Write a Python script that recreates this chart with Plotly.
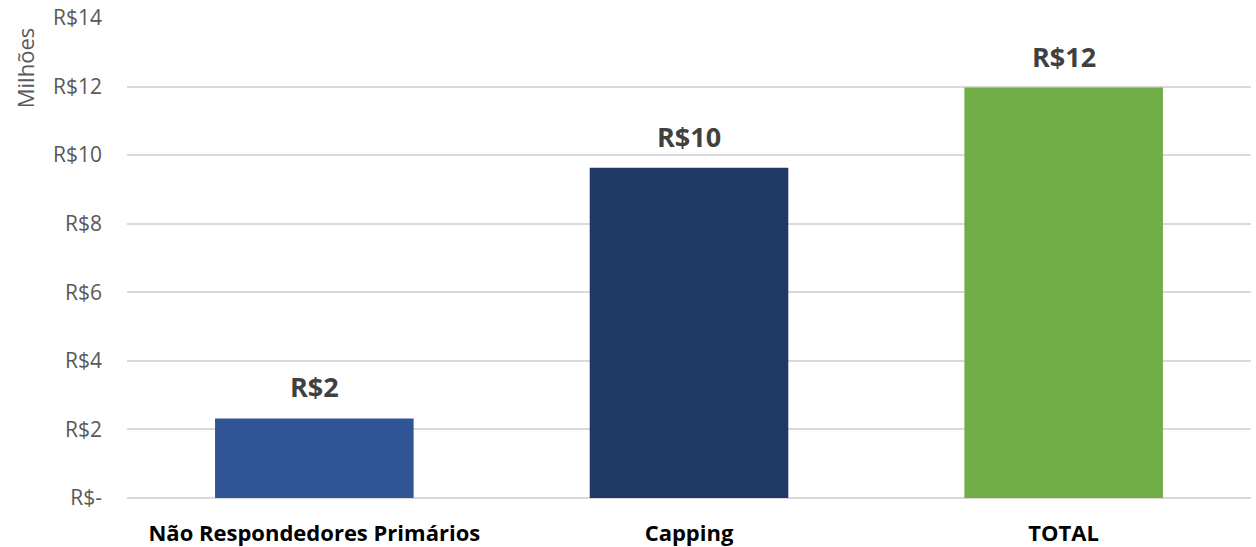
import plotly.graph_objects as go

categories = ["Não Respondedores Primários", "Capping", "TOTAL"]
values = [2.32, 9.63, 11.97]
colors = ["#2F5597", "#203864", "#70AD47"]
tick_vals = [0, 2, 4, 6, 8, 10, 12, 14]
tick_text = ["R$-", "R$2", "R$4", "R$6", "R$8", "R$10", "R$12", "R$14"]
labels = [f"R${round(v)}" for v in values]

FONT = "Open Sans"

fig = go.Figure()
fig.add_trace(go.Bar(
    x=categories, y=values, marker=dict(color=colors, line=dict(width=0)),
    width=0.53, hoverinfo="skip",
))

for c, v, t in zip(categories, values, labels):
    fig.add_annotation(x=c, y=v, text=f"<b>{t}</b>", showarrow=False,
                       yanchor="bottom", yshift=11,
                       font=dict(family=FONT, size=27, color="#404040"))

fig.add_annotation(xref="paper", yref="paper", x=-0.09, y=0.895,
                   xanchor="center", yanchor="middle",
                   text="Milhões", textangle=-90, showarrow=False,
                   font=dict(family=FONT, size=22, color="#595959"))

fig.update_layout(
    width=1256, height=547,
    margin=dict(l=127, r=5, t=18, b=49),
    paper_bgcolor="white", plot_bgcolor="white",
    showlegend=False,
    bargap=0.47,
    xaxis=dict(
        tickfont=dict(family=FONT, size=22, color="#000000", weight="bold"),
        showgrid=False, showline=False, zeroline=False,
        ticks="", ticklabelstandoff=20, automargin=False,
    ),
    yaxis=dict(
        range=[0, 14], tickvals=tick_vals, ticktext=tick_text,
        tickfont=dict(family=FONT, size=21, color="#595959"),
        showgrid=True, gridcolor="#D9D9D9", gridwidth=2,
        zeroline=True, zerolinecolor="#D9D9D9", zerolinewidth=2,
        showline=False, ticks="", ticklabelstandoff=24, automargin=False,
    ),
)

fig.write_html("out.html")
